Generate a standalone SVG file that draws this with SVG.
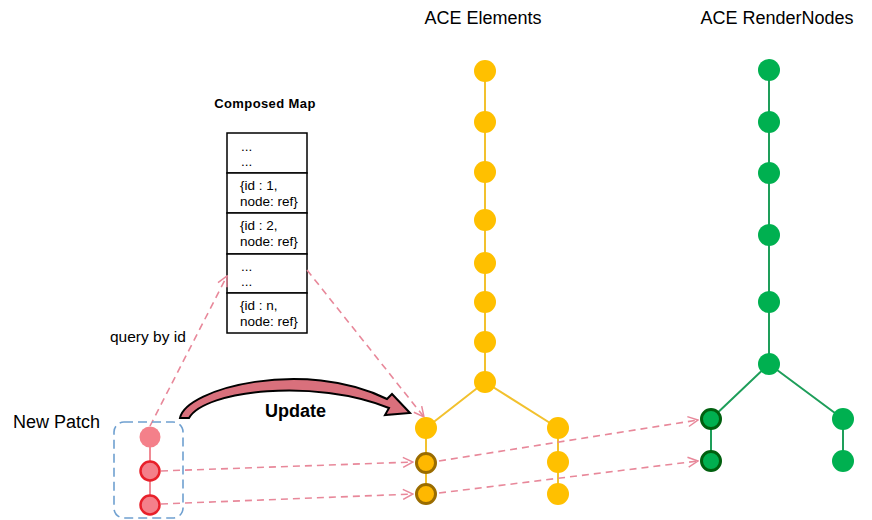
<svg xmlns="http://www.w3.org/2000/svg" width="872" height="520" viewBox="0 0 872 520">
<defs>
<marker id="ah" viewBox="0 0 12 12" refX="11" refY="6" markerWidth="12" markerHeight="12" markerUnits="userSpaceOnUse" orient="auto">
<path d="M1,1 L11,6 L1,11" fill="none" stroke="#E8889A" stroke-width="1.5"/>
</marker>
<style>
.t{font-family:"Liberation Sans",Arial,sans-serif;fill:#000}
.yl{stroke:#F2C12E;stroke-width:2;fill:none}
.gl{stroke:#1E9E5A;stroke-width:2;fill:none}
.y{fill:#FFC000}
.yd{fill:#FFB800;stroke:#9A6C00;stroke-width:3}
.g{fill:#00B050}
.gd{fill:#00B050;stroke:#00600F;stroke-width:3}
.dash{stroke:#E8889A;stroke-width:1.6;stroke-dasharray:7 5;fill:none}
.cell{fill:#fff;stroke:#000;stroke-width:1.5}
.mt{font-family:"Liberation Sans",Arial,sans-serif;font-size:13.5px;fill:#000}
</style>
</defs>
<rect width="872" height="520" fill="#fff"/>
<text class="t" x="483" y="24" font-size="18" text-anchor="middle">ACE Elements</text>
<text class="t" x="777" y="24" font-size="18" text-anchor="middle">ACE RenderNodes</text>
<text class="t" x="265" y="108" font-size="13" font-weight="bold" text-anchor="middle" letter-spacing="0.4">Composed Map</text>
<text class="t" x="13" y="428" font-size="18">New Patch</text>
<text class="t" x="265" y="417" font-size="18" font-weight="bold">Update</text>
<text class="t" x="110" y="342" font-size="15.5">query by id</text>

<g id="composed-map">
<rect class="cell" x="227" y="133" width="80" height="40"/>
<rect class="cell" x="227" y="173" width="80" height="40"/>
<rect class="cell" x="227" y="213" width="80" height="41"/>
<rect class="cell" x="227" y="254" width="80" height="39"/>
<rect class="cell" x="227" y="293" width="80" height="40"/>
<text class="mt" x="241" y="151">...</text>
<text class="mt" x="241" y="166">...</text>
<text class="mt" x="240" y="190">{id : 1,</text>
<text class="mt" x="240" y="206">node: ref}</text>
<text class="mt" x="240" y="230">{id : 2,</text>
<text class="mt" x="240" y="246">node: ref}</text>
<text class="mt" x="241" y="271">...</text>
<text class="mt" x="241" y="286">...</text>
<text class="mt" x="240" y="310">{id : n,</text>
<text class="mt" x="240" y="326">node: ref}</text>
</g>

<g id="connectors">
<path class="yl" d="M485,71 V382 M485,382 L426,428 M485,382 L558,428 M426,428 V494 M558,428 V494"/>
<path class="gl" d="M769,70 V364 M769,364 L711,419 M769,364 L843,419 M711,419 V461 M843,419 V461"/>
<path d="M150,437 V505" stroke="#F08A94" stroke-width="2"/>
<path class="dash" d="M150,426 L227,276" marker-end="url(#ah)"/>
<path class="dash" d="M307,270 L424,417" marker-end="url(#ah)"/>
<path class="dash" d="M161,471 L413,462" marker-end="url(#ah)"/>
<path class="dash" d="M161,504 L413,494" marker-end="url(#ah)"/>
<path class="dash" d="M439,461 L698,420" marker-end="url(#ah)"/>
<path class="dash" d="M439,493 L698,461" marker-end="url(#ah)"/>
<path d="M180,418 C186,388 305,358 387,399 L392,394 L410,413 L385,415 L389,408 C315,378 205,390 189,418 Z" fill="#D9707C" stroke="#000" stroke-width="2" stroke-linejoin="miter"/>
</g>

<g id="patch">
<rect x="114" y="422" width="69" height="96" rx="10" fill="none" stroke="#6FA0D0" stroke-width="1.6" stroke-dasharray="9 5"/>
<circle cx="150" cy="437" r="10.5" fill="#F4808A"/>
<circle cx="150" cy="471" r="9.5" fill="#F4808A" stroke="#E8202A" stroke-width="2.5"/>
<circle cx="150" cy="505" r="9.5" fill="#F4808A" stroke="#E8202A" stroke-width="2.5"/>
</g>

<g id="elements">
<circle class="y" cx="485" cy="71" r="11"/>
<circle class="y" cx="485" cy="122" r="11"/>
<circle class="y" cx="485" cy="172" r="11"/>
<circle class="y" cx="485" cy="220" r="11"/>
<circle class="y" cx="485" cy="263" r="11"/>
<circle class="y" cx="485" cy="302" r="11"/>
<circle class="y" cx="485" cy="342" r="11"/>
<circle class="y" cx="485" cy="382" r="11"/>
<circle class="y" cx="426" cy="428" r="11"/>
<circle class="yd" cx="426" cy="463" r="9.5"/>
<circle class="yd" cx="426" cy="494" r="9.5"/>
<circle class="y" cx="558" cy="428" r="11"/>
<circle class="y" cx="558" cy="462" r="11"/>
<circle class="y" cx="558" cy="494" r="11"/>
</g>

<g id="rendernodes">
<circle class="g" cx="769" cy="70" r="11"/>
<circle class="g" cx="769" cy="122" r="11"/>
<circle class="g" cx="769" cy="173" r="11"/>
<circle class="g" cx="769" cy="235" r="11"/>
<circle class="g" cx="769" cy="302" r="11"/>
<circle class="g" cx="769" cy="364" r="11"/>
<circle class="gd" cx="711" cy="419" r="9.5"/>
<circle class="gd" cx="711" cy="461" r="9.5"/>
<circle class="g" cx="843" cy="419" r="11"/>
<circle class="g" cx="843" cy="461" r="11"/>
</g>
</svg>
